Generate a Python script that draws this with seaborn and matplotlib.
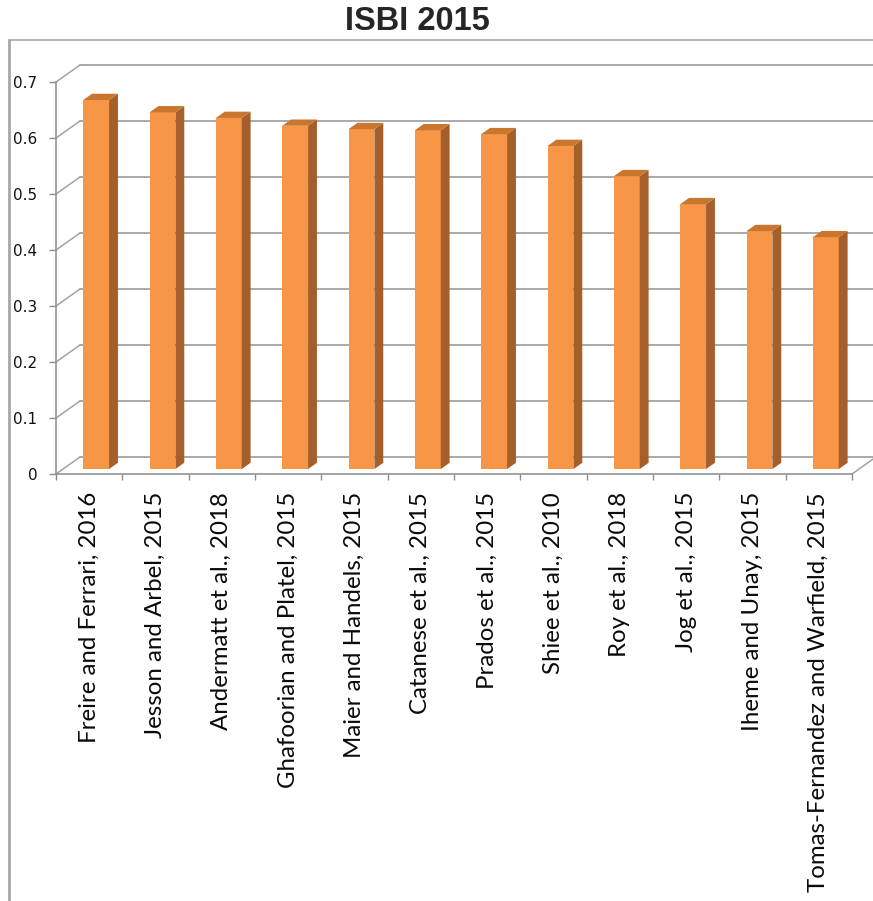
import matplotlib
matplotlib.use("Agg")
import numpy as np
import pandas as pd
import seaborn as sns
import matplotlib.pyplot as plt
from matplotlib.patches import Polygon
from matplotlib.lines import Line2D

# ---- data -------------------------------------------------------------
methods = [
    "Freire and Ferrari, 2016",
    "Jesson and Arbel, 2015",
    "Andermatt et al., 2018",
    "Ghafoorian and Platel, 2015",
    "Maier and Handels, 2015",
    "Catanese et al., 2015",
    "Prados et al., 2015",
    "Shiee et al., 2010",
    "Roy et al., 2018",
    "Jog et al., 2015",
    "Iheme and Unay, 2015",
    "Tomas-Fernandez and War\ufb01eld, 2015",
]
scores = [0.659, 0.637, 0.627, 0.613, 0.607, 0.605, 0.598, 0.577, 0.523, 0.473, 0.425, 0.414]
y_ticks = [0.0, 0.1, 0.2, 0.3, 0.4, 0.5, 0.6, 0.7]
y_tick_labels = ["0", "0.1", "0.2", "0.3", "0.4", "0.5", "0.6", "0.7"]
title = "ISBI 2015"

# ---- style ------------------------------------------------------------
FRONT = "#F79646"
SIDE = "#A55F2A"
TOP = "#C9762F"
GRID = "#A3A3A3"
AXIS = "#8C8C8C"
FRAME = "#A8A8A8"

sns.set_style("white")
plt.rcParams["font.family"] = ["DejaVu Sans"]

W, H, DPI = 873, 901, 100
fig = plt.figure(figsize=(W / DPI, H / DPI), dpi=DPI)
fig.patch.set_facecolor("white")

# front plane of the 3-D box, in pixels
left_px, right_px, top_px, bottom_px = 56, 852, 82, 474
ax = fig.add_axes([left_px / W, 1 - bottom_px / H,
                   (right_px - left_px) / W, (bottom_px - top_px) / H])
ax.set_facecolor("none")

df = pd.DataFrame({"method": methods, "score": scores})
sns.barplot(data=df, x="method", y="score", color=FRONT, saturation=1,
            width=0.39, edgecolor="none", ax=ax, zorder=3)

n = len(methods)
ax.set_xlim(-0.5, n - 0.5)
ax.set_ylim(0, y_ticks[-1])

# depth vector of the box (pixels) converted to data units
px_x = (right_px - left_px) / n
px_y = (bottom_px - top_px) / y_ticks[-1]
DX, DY = 24 / px_x, 17 / px_y
f0, f1 = 0.29, 0.66          # bar front / back position along the depth

# back-wall grid lines, left-wall diagonals and floor
for v in y_ticks:
    ax.add_line(Line2D([-0.5 + DX, n + 1], [v + DY, v + DY], color=GRID,
                       lw=1.3, clip_on=False, zorder=1))
    ax.add_line(Line2D([-0.5, -0.5 + DX], [v, v + DY], color=GRID,
                       lw=1.1, clip_on=False, zorder=1))
ax.add_line(Line2D([n - 0.5, n - 0.5 + DX], [0, DY], color=GRID,
                   lw=1.1, clip_on=False, zorder=1))

# extrude the bars: shift the front faces, then add side and top faces
for p in ax.patches[:n]:
    x0 = p.get_x() + f0 * DX
    w = p.get_width()
    h = p.get_height()
    y0 = f0 * DY
    p.set_x(x0)
    p.set_y(y0)
    d = (f1 - f0)
    x1, yt = x0 + w, y0 + h
    side = Polygon([(x1, y0), (x1, yt), (x1 + d * DX, yt + d * DY),
                    (x1 + d * DX, y0 + d * DY)], closed=True,
                   facecolor=SIDE, edgecolor="none", zorder=3, clip_on=False)
    top = Polygon([(x0, yt), (x1, yt), (x1 + d * DX, yt + d * DY),
                   (x0 + d * DX, yt + d * DY)], closed=True,
                  facecolor=TOP, edgecolor="none", zorder=3, clip_on=False)
    ax.add_patch(side)
    ax.add_patch(top)
    p.set_clip_on(False)

# axes
for s in ("top", "right"):
    ax.spines[s].set_visible(False)
for s in ("left", "bottom"):
    ax.spines[s].set_color(AXIS)
    ax.spines[s].set_linewidth(1.1)

ax.set_yticks(y_ticks)
ax.set_yticklabels(y_tick_labels, fontsize=11, color="#111111")
ax.tick_params(axis="y", which="major", length=5, width=1, color=AXIS,
               direction="out", pad=8.5, left=True)

ax.set_xticks(range(n))
ax.set_xticklabels(methods, rotation=90, fontsize=17.3, color="#0a0a0a",
                   family=["Lato", "DejaVu Sans"])
ax.set_xticks(np.arange(-0.5, n, 1), minor=True)
ax.tick_params(axis="x", which="major", length=0, pad=13)
ax.tick_params(axis="x", which="minor", length=4.5, width=1, color=AXIS,
               direction="out", bottom=True)
ax.set_xlabel("")
ax.set_ylabel("")
ax.grid(False)

# chart frame
fig.add_artist(Line2D([9 / W, 1], [1 - 40 / H, 1 - 40 / H], color=FRAME,
                      lw=1.2, transform=fig.transFigure))
fig.add_artist(Line2D([9 / W, 9 / W], [1 - 40 / H, 0], color=FRAME,
                      lw=2, transform=fig.transFigure))

fig.text(417 / W, 1 - 22 / H, title, ha="center", va="center",
         fontsize=23.5, fontweight="bold", family=["Liberation Sans", "DejaVu Sans"])

fig.savefig("out.png", dpi=DPI, facecolor="white")
